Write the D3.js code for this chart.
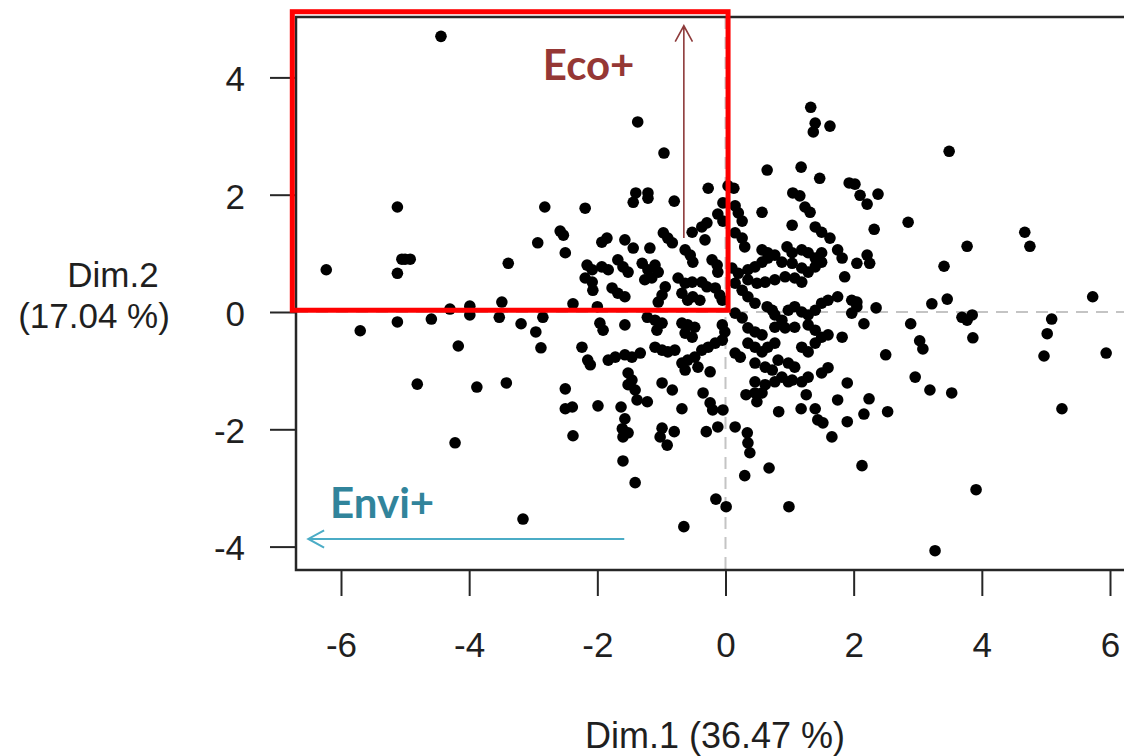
<!DOCTYPE html>
<html>
<head>
<meta charset="utf-8">
<script src="https://cdn.jsdelivr.net/npm/d3@7"></script>
<style>
  body { margin: 0; background: #fff; }
</style>
</head>
<body>
<svg id="chart" width="1124" height="756"></svg>
<script>
// individuals on the first two dimensions [Dim.1, Dim.2]
const individuals = [
  [-4.44,4.70],[-6.23,0.72],[-5.12,1.79],[-5.05,0.90],[-5.00,0.90],[-4.92,0.90],[-5.12,0.66],
  [-3.39,0.83],[-2.82,1.79],[-2.58,1.38],[-2.53,1.31],[-2.93,1.18],[-2.50,1.01],[-3.49,0.17],
  [-3.99,0.10],[-3.99,-0.05],[-4.30,0.05],[-3.53,-0.09],[-3.19,-0.20],[-2.96,-0.34],[-2.85,-0.09],
  [-2.88,-0.61],[-4.17,-0.58],[-4.59,-0.12],[-5.12,-0.17],[-5.70,-0.32],[-2.38,0.14],[-4.81,-1.23],
  [-3.88,-1.28],[-3.42,-1.21],[-2.50,-1.31],[-2.50,-1.65],[-2.39,-1.62],[-2.38,-2.11],[-4.22,-2.23],
  [-3.16,-3.53],
  [-1.37,3.24],[-0.96,2.71],[1.33,3.49],[1.40,3.22],[1.37,3.07],[1.63,3.17],[0.65,2.42],
  [1.18,2.47],[1.47,2.28],[1.93,2.20],[-0.27,2.11],[0.04,2.15],[0.13,2.11],[-1.40,2.03],
  [-1.21,2.03],[-1.44,1.87],[-1.21,1.94],[-0.80,1.89],[-2.19,1.77],[-0.04,1.86],[0.15,1.81],
  [1.05,2.03],[1.16,1.98],[1.24,1.79],[0.57,1.70],[3.49,2.74],[2.38,2.01],[2.10,1.99],
  [2.21,1.84],[2.02,2.18],[2.32,1.41],[2.85,1.53],[4.67,1.36],[4.75,1.12],[3.77,1.12],
  [3.41,0.78],[2.21,0.97],[2.25,0.83],[2.05,0.83],[2.05,0.17],[2.05,0.09],[2.35,0.07],
  [2.16,-0.20],[2.89,-0.20],[3.22,0.14],[3.46,0.22],[3.69,-0.09],[3.77,-0.14],[3.85,-0.05],
  [3.86,-0.44],[3.03,-0.49],[3.08,-0.63],[2.50,-0.73],[5.09,-0.12],[5.02,-0.37],[4.97,-0.75],
  [5.73,0.26],[5.94,-0.70],[2.96,-1.11],[3.19,-1.33],[3.53,-1.38],[2.24,-1.48],[2.16,-1.74],
  [2.53,-1.70],[5.25,-1.65],[2.13,-2.62],[3.91,-3.03],[3.27,-4.07],
  [-1.99,-1.60],[-1.63,-1.62],[-1.57,-1.82],[-1.61,-1.99],[-1.52,-2.06],[-1.60,-2.13],[-1.60,-2.54],
  [-1.41,-2.91],[-0.99,-1.98],[-1.02,-2.13],[-0.91,-2.27],[-0.80,-2.04],[-0.68,-1.65],[-0.35,-1.38],
  [-0.24,-1.55],[-0.20,-1.67],[-0.04,-1.67],[-0.30,-2.04],[-0.12,-1.96],[0.15,-1.96],[0.34,-2.06],
  [0.35,-2.23],[0.38,-2.40],[0.68,-2.66],[0.30,-2.79],[-0.15,-3.19],[0.01,-3.32],[0.99,-3.32],
  [-0.65,-3.66],[0.83,-1.70],[1.18,-1.65],[1.40,-1.65],[1.44,-1.84],[1.52,-1.89],[1.66,-2.13],
  [1.90,-1.87],[1.75,-1.50],[1.26,-1.41],[0.32,-1.41],[0.46,-1.38],[0.49,-1.53],[0.57,-1.38],
  [-1.52,-1.24],[-1.41,-1.33],[-1.38,-1.50],[-1.22,-1.53],[-0.99,-1.21],[-0.83,-1.33],[0.77,-1.19],
  [0.98,-1.19],[1.19,-1.19],[1.90,-1.21],
  [-0.12,1.67],[-0.04,1.55],[0.20,1.69],[0.26,1.55],[1.04,1.48],[1.32,1.70],[1.40,1.45],
  [1.50,1.36],[1.63,1.26],[-1.85,1.26],[-1.93,1.19],[-1.57,1.23],[-1.44,1.09],[-1.18,1.09],
  [-0.97,1.35],[-0.90,1.26],[-0.83,1.18],[-0.52,1.36],[-0.37,1.45],[-0.29,1.52],[-0.32,1.23],
  [-0.63,1.06],[-0.55,0.97],[-0.51,0.85],[0.15,1.35],[0.26,1.26],[0.30,1.11],[0.57,1.06],
  [0.66,1.01],[0.96,1.11],[1.04,1.01],[1.19,1.06],[1.29,1.01],[1.40,0.92],[1.50,1.01],
  [1.75,1.06],[1.82,0.92],[-2.16,0.80],[-2.08,0.72],[-1.93,0.77],[-1.83,0.72],[-2.19,0.58],
  [-2.08,0.51],[-1.68,0.89],[-1.60,0.77],[-1.52,0.68],[-1.30,0.83],[-1.21,0.72],[-1.10,0.80],
  [-1.05,0.68],[-1.26,0.55],[-1.15,0.58],[-1.77,0.41],[-1.68,0.32],[-1.57,0.26],[-2.07,0.37],
  [-0.94,0.43],[-0.99,0.29],[-1.05,0.17],[-0.74,0.58],[-0.63,0.49],[-0.52,0.51],[-0.37,0.51],
  [-0.29,0.43],[-0.68,0.32],[-0.59,0.20],[-0.51,0.26],[-0.40,0.20],[-0.21,0.89],[-0.13,0.80],
  [-0.12,0.68],[-0.16,0.41],[-0.09,0.29],[-0.05,0.20],[0.10,0.75],[0.20,0.66],[0.15,0.49],
  [0.35,0.72],[0.46,0.77],[0.57,0.85],[0.66,0.92],[0.77,0.97],[0.88,0.85],[1.04,0.83],
  [1.19,0.75],[1.29,0.68],[1.40,0.77],[1.50,0.85],[0.35,0.55],[0.49,0.49],[0.62,0.51],
  [0.77,0.55],[0.93,0.60],[1.08,0.58],[1.19,0.51],[1.86,0.60],[0.26,0.37],[0.35,0.26],
  [0.46,0.15],[-2.00,0.09],[-1.96,-0.19],[-1.91,-0.31],[-1.57,-0.22],[-1.22,-0.09],[-1.10,-0.14],
  [-0.99,-0.19],[-1.07,-0.31],[-0.68,-0.19],[-0.59,-0.22],[-0.48,-0.26],[-0.63,-0.36],[-0.52,-0.43],
  [-0.05,-0.22],[-0.01,-0.34],[0.15,-0.02],[0.26,-0.10],[0.35,-0.27],[0.46,-0.34],[0.57,-0.39],
  [0.65,0.09],[0.73,0.03],[0.77,-0.05],[0.88,-0.14],[0.98,0.03],[1.08,0.09],[1.19,0.00],
  [1.29,-0.05],[1.40,0.03],[1.50,0.15],[1.60,0.20],[1.75,0.26],[0.77,-0.26],[0.93,-0.27],
  [1.08,-0.26],[1.29,-0.22],[1.40,-0.31],[1.60,-0.39],[1.82,-0.43],[1.97,0.20],[1.97,-0.02],
  [-2.24,-0.60],[-2.15,-0.82],[-2.11,-0.90],[-1.83,-0.82],[-1.72,-0.77],[-1.57,-0.73],[-1.46,-0.77],
  [-1.33,-0.70],[-1.52,-1.04],[-1.46,-1.16],[-1.10,-0.60],[-0.99,-0.65],[-0.90,-0.68],[-0.79,-0.65],
  [-0.68,-0.87],[-0.59,-0.82],[-0.63,-0.99],[-0.37,-0.65],[-0.27,-0.60],[-0.16,-0.53],[-0.05,-0.48],
  [-0.24,-1.02],[-0.48,-0.77],[-0.43,-0.94],[0.15,-0.70],[0.23,-0.77],[0.35,-0.53],[0.46,-0.60],
  [0.57,-0.68],[0.66,-0.60],[0.77,-0.53],[0.46,-0.87],[0.62,-0.94],[0.73,-0.99],[0.82,-0.82],
  [0.98,-0.87],[1.08,-0.94],[1.19,-0.60],[1.29,-0.68],[1.40,-0.53],[1.50,-0.43],[0.46,-1.19],
  [0.62,-1.24],[0.88,-1.11],[1.04,-1.16],[1.29,-1.11],[1.50,-1.04],[1.60,-0.95]
];

const xTicks = [-6, -4, -2, 0, 2, 4, 6];
const yTicks = [-4, -2, 0, 2, 4];
const xTitle = "Dim.1 (36.47 %)";
const yTitle = ["Dim.2", "(17.04 %)"];

// highlighted quadrant and the two direction arrows (data units)
const boxCorners = [[-6.76, 0.03], [0.04, 5.12]];
const ecoArrow = [[-0.65, 1.26], [-0.65, 4.88]];
const enviArrow = [[-1.58, -3.87], [-6.51, -3.87]];
const labels = [
  { text: "Eco+", at: [-2.85, 3.96], color: "#953735" },
  { text: "Envi+", at: [-6.17, -3.51], color: "#31849b" }
];

const svg = d3.select("#chart");
const textColor = "#1f1f1f";
const plotLeft = 296, plotTop = 17, plotBottom = 570, plotRight = 1140;

const x = d3.scaleLinear().domain([-6, 6]).range([341, 1110]);
const y = d3.scaleLinear().domain([-4, 4]).range([546.6, 77.4]);

// dashed reference lines through the origin
svg.append("line")
  .attr("x1", x(0)).attr("x2", x(0))
  .attr("y1", plotTop).attr("y2", plotBottom)
  .style("stroke", "#c4c4c4")
  .style("stroke-width", 2)
  .style("stroke-dasharray", "12,8");
svg.append("line")
  .attr("x1", plotLeft).attr("x2", plotRight)
  .attr("y1", y(0)).attr("y2", y(0))
  .style("stroke", "#c4c4c4")
  .style("stroke-width", 2)
  .style("stroke-dasharray", "12,8");

// points
svg.append("g")
  .selectAll("circle")
  .data(individuals)
  .enter().append("circle")
    .attr("cx", d => x(d[0]))
    .attr("cy", d => y(d[1]))
    .attr("r", 5.8)
    .style("fill", "#000");

// plot frame
svg.append("rect")
  .attr("x", plotLeft).attr("y", plotTop)
  .attr("width", plotRight - plotLeft)
  .attr("height", plotBottom - plotTop)
  .style("fill", "none")
  .style("stroke", "#262626")
  .style("stroke-width", 2.5);

// axes
const xAxis = svg.append("g")
  .attr("transform", "translate(0," + plotBottom + ")")
  .call(d3.axisBottom(x).tickValues(xTicks).tickSize(26).tickPadding(36).tickFormat(d3.format("d")));
const yAxis = svg.append("g")
  .attr("transform", "translate(" + (plotLeft - 1) + ",0)")
  .call(d3.axisLeft(y).tickValues(yTicks).tickSize(25).tickPadding(25).tickFormat(d3.format("d")));

[xAxis, yAxis].forEach(function(g) {
  g.select(".domain").remove();
  g.selectAll(".tick line").style("stroke", "#262626").style("stroke-width", 2);
  g.selectAll(".tick text")
    .style("fill", textColor)
    .style("font-family", "'Liberation Sans', Arial, sans-serif")
    .style("font-size", "35px");
});
// keep a plain "-" sign like the original
xAxis.selectAll(".tick text").text(d => String(d));
yAxis.selectAll(".tick text").text(d => String(d)).attr("dy", "0.38em");

// axis titles
svg.append("text")
  .attr("x", 715).attr("y", 748)
  .text(xTitle)
  .style("text-anchor", "middle")
  .style("fill", textColor)
  .style("font-family", "'Liberation Sans', Arial, sans-serif")
  .style("font-size", "36px");
yTitle.forEach(function(t, i) {
  svg.append("text")
    .attr("x", i === 0 ? 113 : 94)
    .attr("y", 287 + i * 41)
    .text(t)
    .style("text-anchor", "middle")
    .style("fill", textColor)
    .style("font-family", "'Liberation Sans', Arial, sans-serif")
    .style("font-size", "35px");
});

// highlighted quadrant
svg.append("rect")
  .attr("x", x(boxCorners[0][0]))
  .attr("y", y(boxCorners[1][1]))
  .attr("width", x(boxCorners[1][0]) - x(boxCorners[0][0]))
  .attr("height", y(boxCorners[0][1]) - y(boxCorners[1][1]))
  .style("fill", "none")
  .style("stroke", "#ff0000")
  .style("stroke-width", 5);

// arrows with open heads
function drawArrow(pts, color, width) {
  let x1 = x(pts[0][0]), y1 = y(pts[0][1]);
  let x2 = x(pts[1][0]), y2 = y(pts[1][1]);
  let ang = Math.atan2(y2 - y1, x2 - x1);
  let len = 18, spread = 0.5;
  let path = "M" + x1 + "," + y1 + "L" + x2 + "," + y2 +
    "M" + (x2 - len * Math.cos(ang - spread)) + "," + (y2 - len * Math.sin(ang - spread)) +
    "L" + x2 + "," + y2 +
    "L" + (x2 - len * Math.cos(ang + spread)) + "," + (y2 - len * Math.sin(ang + spread));
  svg.append("path")
    .attr("d", path)
    .style("fill", "none")
    .style("stroke", color)
    .style("stroke-width", width);
}
drawArrow(ecoArrow, "#8e3b3b", 1.6);
drawArrow(enviArrow, "#4bacc6", 2);

labels.forEach(function(l) {
  svg.append("text")
    .attr("x", x(l.at[0]))
    .attr("y", y(l.at[1]))
    .text(l.text)
    .style("fill", l.color)
    .style("font-family", "Lato, 'Open Sans', sans-serif")
    .style("font-weight", "bold")
    .style("font-size", "42px");
});
</script>
</body>
</html>
